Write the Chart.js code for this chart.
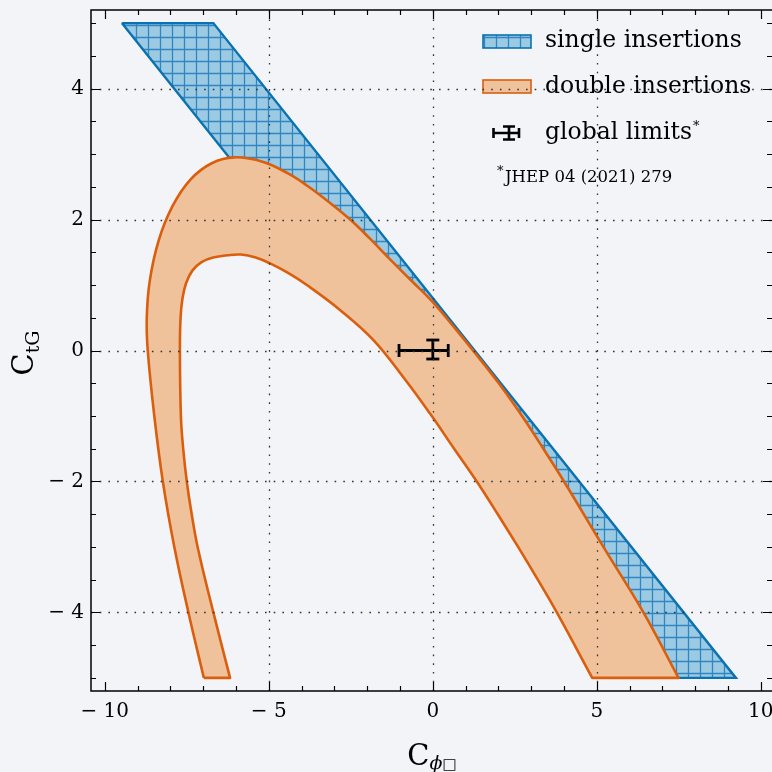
<!DOCTYPE html>
<html>
<head>
<meta charset="utf-8">
<script src="https://cdn.jsdelivr.net/npm/chart.js@4.4.1/dist/chart.umd.min.js"></script>
<style>
  html, body { margin: 0; padding: 0; background: #f3f4f7; }
  #wrap { width: 772px; height: 772px; }
</style>
</head>
<body>
<div id="wrap"><canvas id="chart" width="772" height="772"></canvas></div>
<script>
// --- veri ---
// tekli eklemeler (paralelkenar bant)
const singleX = [-9.48, -6.69, 9.24, 6.45, -9.48];
const singleY = [5, 5, -5, -5, 5];

// ikili eklemeler: dış sınır (sol alttan yukarı, sonra sağ alta)
const outerX = [-6.98, -7.45, -7.88, -8.23, -8.49, -8.69, -8.72, -8.63, -8.36, -7.94, -7.39, -6.74, -6.05, -5.17, -4.40, -3.84, -3.20, -2.52, -1.90, -1.28, -0.62, -0.02, 0.74, 1.225, 2.01, 2.72, 3.37, 4.00, 5.20, 6.42, 7.49];
const outerY = [-5, -4, -3, -2, -1, 0, 0.5, 1.06, 1.675, 2.20, 2.61, 2.86, 2.95, 2.88, 2.70, 2.52, 2.28, 2.0, 1.70, 1.38, 1.05, 0.75, 0.30, 0, -0.5, -1, -1.5, -2, -3, -4, -5];

// ikili eklemeler: iç sınır
const innerX = [-6.18, -6.69, -7.17, -7.35, -7.50, -7.61, -7.68, -7.71, -7.69, -7.63, -7.52, -7.33, -7.05, -6.70, -6.25, -5.85, -5.40, -4.96, -4.40, -3.84, -2.83, -1.81, -0.88, -0.09, 0.65, 1.34, 1.98, 2.60, 3.20, 3.78, 4.86];
const innerY = [-5, -4, -3, -2.5, -2, -1.5, -1, 0, 0.5, 0.8, 1.03, 1.22, 1.35, 1.42, 1.455, 1.465, 1.42, 1.33, 1.18, 1.0, 0.62, 0.16, -0.42, -0.96, -1.5, -2, -2.5, -3, -3.5, -4, -5];

// global limitler (merkez ve hata aralıkları)
const globalCenter = [0, 0];
const globalXRange = [-1.03, 0.47];
const globalYRange = [-0.13, 0.16];

const xTicks = [-10, -5, 0, 5, 10];
const yTicks = [-4, -2, 0, 2, 4];

const SERIF = '"DejaVu Serif", serif';
const BLUE = '#0a72b0';
const ORANGE = '#d95f0e';

function toPoints(xs, ys) {
    return xs.map((x, i) => ({ x: x, y: ys[i] }));
}

// Turuncu bant: dış sınır + ters çevrilmiş iç sınır.
// Köşe noktaları iki kez eklenir ki eğri yumuşatma köşeleri yuvarlamasın.
const outerPts = toPoints(outerX, outerY);
const innerPts = toPoints(innerX, innerY).reverse();
const doublePoly = outerPts
    .concat([outerPts[outerPts.length - 1], innerPts[0]])
    .concat(innerPts)
    .concat([innerPts[innerPts.length - 1], outerPts[0]]);

// Kafes tarama deseni
function makeHatch() {
    const c = document.createElement('canvas');
    c.width = 12; c.height = 12;
    const g = c.getContext('2d');
    g.fillStyle = '#9ccae3';
    g.fillRect(0, 0, 12, 12);
    g.strokeStyle = '#2f86c2';
    g.lineWidth = 1.3;
    g.beginPath();
    g.moveTo(4.5, 0); g.lineTo(4.5, 12);
    g.moveTo(0, 1.5); g.lineTo(12, 1.5);
    g.stroke();
    return g.createPattern(c, 'repeat');
}
const hatch = makeHatch();

function fmtTick(v) {
    return v < 0 ? '\u2212 ' + Math.abs(v) : String(v);
}

// Eksenlerin otomatik kenar boşluklarını sıfırla
function noPad(scale) {
    scale.paddingLeft = 0;
    scale.paddingRight = 0;
    scale.paddingTop = 0;
    scale.paddingBottom = 0;
}

// Izgara, çerçeve, tik işaretleri, gösterge ve eksen başlıkları
const decorPlugin = {
    id: 'decor',
    beforeDatasetsDraw(chart) {
        const ctx = chart.ctx;
        ctx.save();
        // tekli
        ctx.fillStyle = hatch;
        ctx.fillRect(483, 35, 48, 13);
        ctx.strokeStyle = BLUE; ctx.lineWidth = 1.6;
        ctx.strokeRect(483, 35, 48, 13);
        // ikili
        ctx.fillStyle = '#f0c29c';
        ctx.fillRect(483, 80, 48, 13);
        ctx.strokeStyle = ORANGE;
        ctx.strokeRect(483, 80, 48, 13);
        // hata çubuğu simgesi
        ctx.strokeStyle = '#000'; ctx.lineWidth = 2.6;
        ctx.beginPath();
        ctx.moveTo(493.5, 133); ctx.lineTo(519, 133);
        ctx.moveTo(493.5, 128); ctx.lineTo(493.5, 138);
        ctx.moveTo(519, 128); ctx.lineTo(519, 138);
        ctx.moveTo(509, 126.5); ctx.lineTo(509, 139.5);
        ctx.moveTo(503, 126.5); ctx.lineTo(515, 126.5);
        ctx.moveTo(503, 139.5); ctx.lineTo(515, 139.5);
        ctx.stroke();
        // metinler
        ctx.fillStyle = '#000';
        ctx.textBaseline = 'alphabetic';
        ctx.textAlign = 'left';
        ctx.font = '23.5px ' + SERIF;
        ctx.fillText('single insertions', 545, 47);
        ctx.fillText('double insertions', 545, 92.5);
        ctx.fillText('global limits', 545, 139);
        const w = ctx.measureText('global limits').width;
        ctx.font = '13px ' + SERIF;
        ctx.fillText('*', 546 + w, 130);
        ctx.fillText('*', 497, 175);
        ctx.font = '16.5px ' + SERIF;
        ctx.fillText('JHEP 04 (2021) 279', 505, 181.5);
        ctx.restore();
    },
    afterDatasetsDraw(chart) {
        const ctx = chart.ctx;
        const a = chart.chartArea;
        const xs = chart.scales.x, ys = chart.scales.y;
        ctx.save();
        // noktalı ızgara (verilerin üstünde)
        ctx.strokeStyle = '#333';
        ctx.lineWidth = 1.3;
        ctx.setLineDash([1.6, 7.1]);
        ctx.beginPath();
        xTicks.forEach(v => {
            if (Math.abs(v) >= 10) return;
            const px = Math.round(xs.getPixelForValue(v)) + 0.5;
            ctx.moveTo(px, a.bottom); ctx.lineTo(px, a.top);
        });
        yTicks.forEach(v => {
            const py = Math.round(ys.getPixelForValue(v)) + 0.5;
            ctx.moveTo(a.left, py); ctx.lineTo(a.right, py);
        });
        ctx.stroke();
        ctx.setLineDash([]);

        // içe dönük tik işaretleri
        ctx.strokeStyle = '#000';
        ctx.lineWidth = 1.2;
        ctx.beginPath();
        for (let v = -10; v <= 10; v++) {
            const px = Math.round(xs.getPixelForValue(v)) + 0.5;
            const len = (v % 5 === 0) ? 9 : 5;
            ctx.moveTo(px, a.bottom); ctx.lineTo(px, a.bottom - len);
            ctx.moveTo(px, a.top); ctx.lineTo(px, a.top + len);
        }
        for (let v = -5; v <= 5; v += 0.5) {
            const py = Math.round(ys.getPixelForValue(v)) + 0.5;
            const len = (v % 2 === 0) ? 9 : 5;
            ctx.moveTo(a.left, py); ctx.lineTo(a.left + len, py);
            ctx.moveTo(a.right, py); ctx.lineTo(a.right - len, py);
        }
        ctx.stroke();

        // çerçeve (sağ kenar resmin dışında kalıyor)
        ctx.lineWidth = 1.5;
        ctx.beginPath();
        ctx.moveTo(a.right + 2, a.top);
        ctx.lineTo(a.left, a.top);
        ctx.lineTo(a.left, a.bottom);
        ctx.lineTo(a.right + 2, a.bottom);
        ctx.stroke();
        ctx.restore();
    },
    afterDraw(chart) {
        const ctx = chart.ctx;
        ctx.save();
        ctx.fillStyle = '#000';
        ctx.textBaseline = 'alphabetic';
        ctx.textAlign = 'left';

        // x ekseni başlığı: C_{φ□}
        ctx.font = '29px ' + SERIF;
        const wc = ctx.measureText('C').width;
        ctx.font = 'italic 19px ' + SERIF;
        const wphi = ctx.measureText('\u03d5').width;
        ctx.font = '15px "DejaVu Sans", sans-serif';
        const wbox = ctx.measureText('\u25a1').width;
        let x0 = 432 - (wc + wphi + wbox) / 2;
        ctx.font = '29px ' + SERIF;
        ctx.fillText('C', x0, 765);
        ctx.font = 'italic 19px ' + SERIF;
        ctx.fillText('\u03d5', x0 + wc, 769);
        ctx.font = '15px "DejaVu Sans", sans-serif';
        ctx.fillText('\u25a1', x0 + wc + wphi, 769);

        // y ekseni başlığı: C_{tG}
        ctx.translate(33, 353);
        ctx.rotate(-Math.PI / 2);
        ctx.font = '29px ' + SERIF;
        const wc2 = ctx.measureText('C').width;
        ctx.font = '19px ' + SERIF;
        const wsub = ctx.measureText('tG').width;
        const s0 = -(wc2 + wsub) / 2;
        ctx.font = '29px ' + SERIF;
        ctx.fillText('C', s0, 0);
        ctx.font = '19px ' + SERIF;
        ctx.fillText('tG', s0 + wc2, 6);
        ctx.restore();
    }
};

const chart = new Chart(document.getElementById('chart'), {
    type: 'scatter',
    data: {
        datasets: [
            {
                label: 'global limits x',
                data: [{ x: globalXRange[0], y: globalCenter[1] }, { x: globalXRange[1], y: globalCenter[1] }],
                showLine: true,
                borderColor: '#000',
                borderWidth: 2.8,
                pointStyle: 'line',
                pointRotation: 90,
                pointRadius: 6.5,
                pointBorderWidth: 2.8,
                pointBorderColor: '#000',
                order: 0
            },
            {
                label: 'global limits y',
                data: [{ x: globalCenter[0], y: globalYRange[0] }, { x: globalCenter[0], y: globalYRange[1] }],
                showLine: true,
                borderColor: '#000',
                borderWidth: 2.8,
                pointStyle: 'line',
                pointRotation: 0,
                pointRadius: 6.5,
                pointBorderWidth: 2.8,
                pointBorderColor: '#000',
                order: 1
            },
            {
                label: 'double insertions',
                data: doublePoly,
                showLine: true,
                fill: 'shape',
                backgroundColor: '#f0c29c',
                borderColor: ORANGE,
                borderWidth: 2.6,
                borderJoinStyle: 'round',
                pointRadius: 0,
                tension: 0.4,
                order: 2
            },
            {
                label: 'single insertions',
                data: toPoints(singleX, singleY),
                showLine: true,
                fill: 'shape',
                backgroundColor: hatch,
                borderColor: BLUE,
                borderWidth: 2.4,
                pointRadius: 0,
                tension: 0,
                order: 3
            }
        ]
    },
    options: {
        responsive: false,
        animation: false,
        devicePixelRatio: 1,
        layout: { autoPadding: false, padding: { top: 10, right: 0, left: 0, bottom: 0 } },
        plugins: {
            legend: { display: false },
            tooltip: { enabled: false },
            title: { display: false }
        },
        scales: {
            x: {
                type: 'linear',
                min: -10.42,
                max: 10.34,
                afterFit(scale) { scale.height = 81; noPad(scale); },
                grid: { display: false, drawTicks: false },
                border: { display: false },
                ticks: {
                    stepSize: 5,
                    includeBounds: false,
                    autoSkip: false,
                    maxRotation: 0,
                    padding: 9,
                    color: '#000',
                    font: { family: SERIF, size: 20 },
                    callback: fmtTick
                }
            },
            y: {
                type: 'linear',
                min: -5.2,
                max: 5.2,
                afterFit(scale) { scale.width = 91; noPad(scale); },
                grid: { display: false, drawTicks: false },
                border: { display: false },
                ticks: {
                    stepSize: 2,
                    includeBounds: false,
                    autoSkip: false,
                    padding: 7,
                    color: '#000',
                    font: { family: SERIF, size: 20 },
                    callback: fmtTick
                }
            }
        }
    },
    plugins: [decorPlugin]
});
</script>
</body>
</html>
